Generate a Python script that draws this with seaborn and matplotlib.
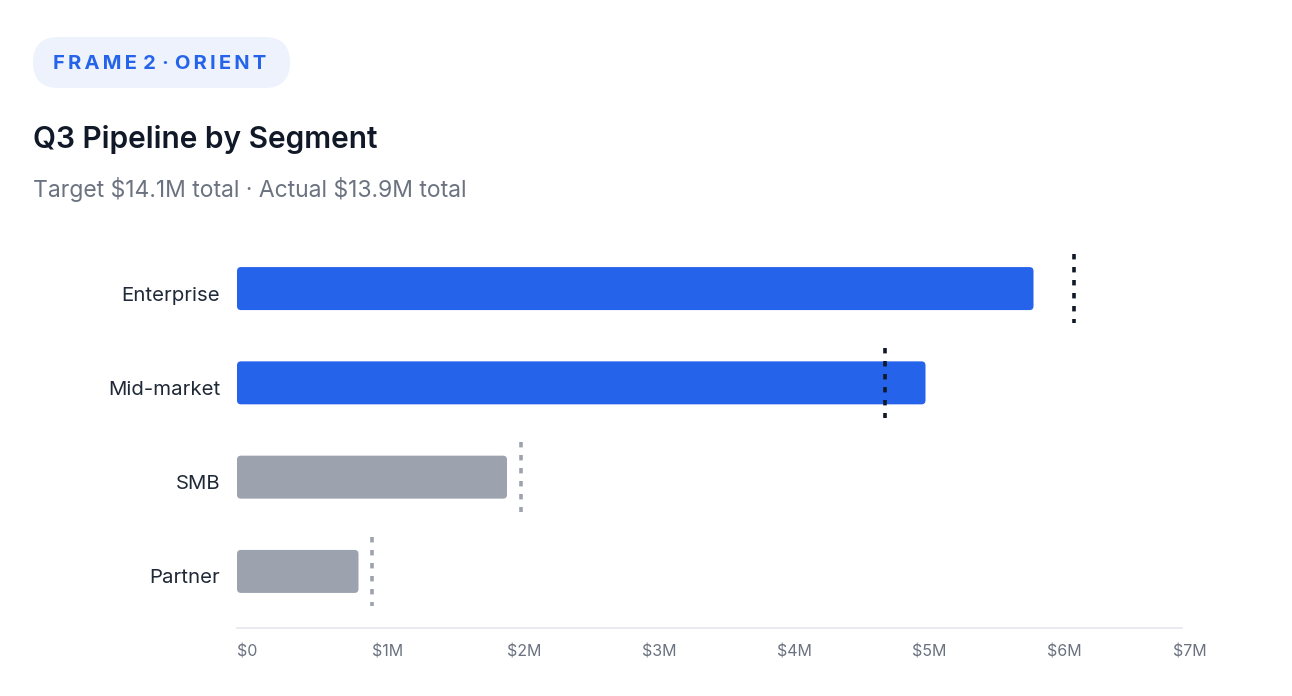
import matplotlib
matplotlib.use("Agg")
import matplotlib.pyplot as plt
import matplotlib.transforms as mtransforms
import pandas as pd
import seaborn as sns
from matplotlib.patches import FancyBboxPatch

segments = ["Enterprise", "Mid-market", "SMB", "Partner"]
actual = [5.9, 5.1, 2.0, 0.9]
target = [6.2, 4.8, 2.1, 1.0]
highlight = [True, True, False, False]
tick_values = [0, 1, 2, 3, 4, 5, 6, 7]
tick_labels = ["\\$0", "\\$1M", "\\$2M", "\\$3M", "\\$4M", "\\$5M", "\\$6M", "\\$7M"]

BLUE = "#2563eb"
GRAY = "#9ca3af"
DARK = "#111827"

W, H = 1292, 696
sns.set_theme(style="white")
plt.rcParams["font.family"] = ["Inter", "DejaVu Sans"]

df = pd.DataFrame({"segment": segments, "actual": actual})
palette = {s: (BLUE if h else GRAY) for s, h in zip(segments, highlight)}

fig = plt.figure(figsize=(W / 100, H / 100), dpi=100)
fig.patch.set_facecolor("white")

# axes placed in pixel space: x 237..1182, y 232..628
ax_l, ax_r, ax_t, ax_b = 237, 1182, 232, 628
ax = fig.add_axes([ax_l / W, 1 - ax_b / H, (ax_r - ax_l) / W, (ax_b - ax_t) / H])

sns.barplot(data=df, x="actual", y="segment", hue="segment", palette=palette,
            width=0.456, legend=False, ax=ax, saturation=1)

ax.set_xlim(0, 7)
ax.set_ylim(3.6, -0.6)

# swap bars for rounded ones
px_x = (ax_r - ax_l) / 7
px_y = (ax_b - ax_t) / 4.2
r = 4 / px_x
for p in list(ax.patches):
    x, y = p.get_x(), p.get_y()
    w, h = p.get_width(), p.get_height()
    fc = p.get_facecolor()
    p.remove()
    ax.add_patch(FancyBboxPatch((x, y), w, h,
                                boxstyle=f"round,pad=0,rounding_size={r}",
                                mutation_aspect=px_x / px_y,
                                fc=fc, ec="none", zorder=2))

# target markers
for i, (t, h) in enumerate(zip(target, highlight)):
    ax.vlines(t, i - 0.37, i + 0.37, colors=DARK if h else GRAY,
              linestyles=(0, (1.5, 2.1)), linewidth=2.6, zorder=3)

for s in ["top", "right", "left"]:
    ax.spines[s].set_visible(False)
ax.spines["bottom"].set_color("#e5e7eb")
ax.spines["bottom"].set_linewidth(1.2)

ax.set_xticks(tick_values)
ax.set_xticklabels(tick_labels, ha="left", color="#6b7280", fontsize=11.5)
ax.tick_params(axis="x", length=0, pad=12)
ax.tick_params(axis="y", length=0, pad=12)
shift = mtransforms.ScaledTranslation(0, -5 / 100, fig.dpi_scale_trans)
for lab in ax.get_yticklabels():
    lab.set_color("#1f2937")
    lab.set_fontsize(14.7)
    lab.set_transform(lab.get_transform() + shift)
# last tick label sits a bit to the left in the reference
ax.get_xticklabels()[-1].set_ha("center")
ax.get_xticklabels()[-1].set_transform(
    ax.get_xticklabels()[-1].get_transform()
    + mtransforms.ScaledTranslation(8 / 100, 0, fig.dpi_scale_trans))
ax.set_xlabel("")
ax.set_ylabel("")

# badge
badge = FancyBboxPatch((33 / W, 1 - 88 / H), 257 / W, 51 / H,
                       boxstyle="round,pad=0,rounding_size=0.0197",
                       mutation_aspect=W / H,
                       transform=fig.transFigure, fc="#edf2fd", ec="none")
fig.patches.append(badge)
fig.text(53 / W, 1 - 64 / H, "F R A M E  2  ·  O R I E N T".replace(" ", "\u2009"),
         fontsize=14.5, fontweight="bold", color=BLUE, va="center", ha="left")

fig.text(33 / W, 1 - 140 / H, "Q3 Pipeline by Segment", fontsize=21.5,
         fontweight="semibold", color=DARK, va="center", ha="left")
fig.text(33 / W, 1 - 189 / H, "Target \\$14.1M total · Actual \\$13.9M total",
         fontsize=16.5, color="#6b7280", va="center", ha="left")

fig.savefig("out.png", dpi=100, facecolor="white")
